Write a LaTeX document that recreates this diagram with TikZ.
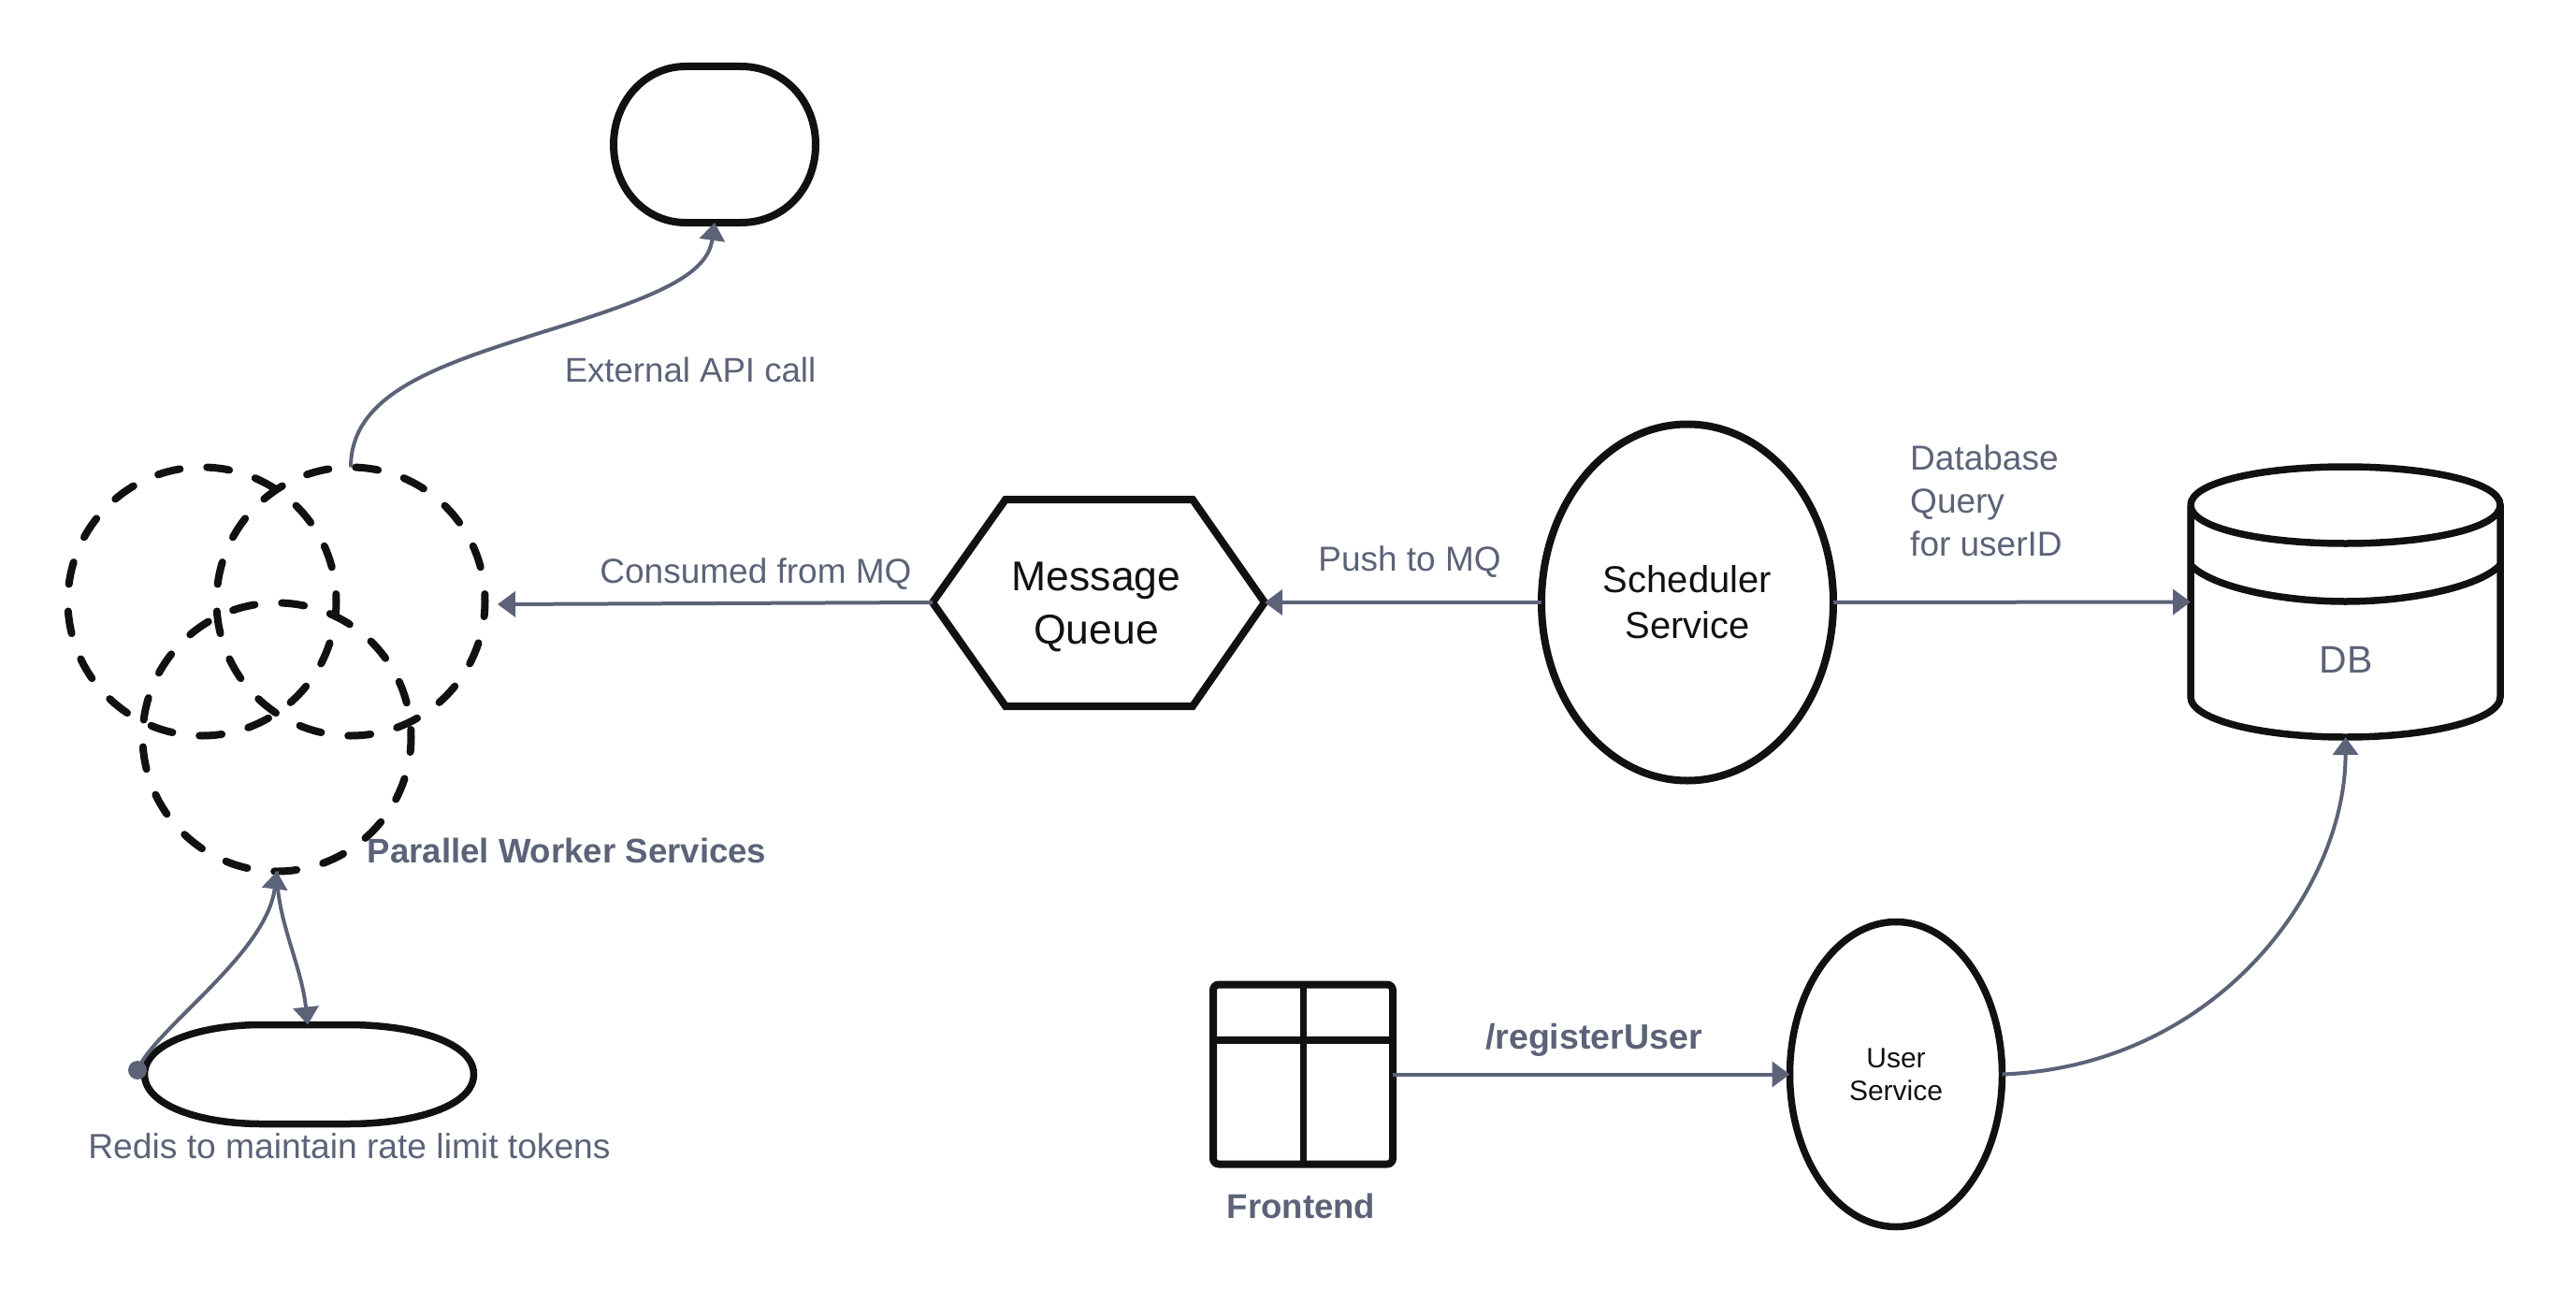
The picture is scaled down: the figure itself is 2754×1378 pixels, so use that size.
\documentclass[tikz,border=0pt]{standalone}
\usepackage{fontspec}
\setmainfont{Liberation Sans}
\usetikzlibrary{arrows.meta,shapes.geometric,calc}
\definecolor{slate}{HTML}{5C6378}
\definecolor{ink}{HTML}{111111}
\tikzset{
  x=1pt,y=-1pt,
  solidshape/.style={draw=ink,line width=8pt,outer sep=0pt,inner sep=0pt},
  ghost/.style={draw=none,outer sep=0pt,inner sep=0pt,rectangle},
  worker/.style={circle,draw=ink,line width=8pt,line cap=round,dash pattern=on 24pt off 29.04pt,dash phase=16pt,minimum size=287pt,outer sep=0pt,inner sep=0pt},
  conn/.style={draw=slate,line width=4pt,-{Triangle[length=19pt,width=27pt]}},
  lbl/.style={text=slate,font=\fontsize{37}{46}\selectfont,inner sep=0pt,align=left},
  lblb/.style={text=slate,font=\fontsize{36.6}{46}\bfseries\selectfont,inner sep=0pt},
  big/.style={text=ink,font=\fontsize{44.5}{57}\selectfont,align=center},
  mid/.style={text=ink,font=\fontsize{40}{49}\selectfont,align=center},
  small/.style={text=ink,font=\fontsize{30}{35}\selectfont,align=center},
}
\begin{document}
\begin{tikzpicture}
\useasboundingbox (0,0) rectangle (2754,1378);
% workers
\node[worker] (wa) at (216,643) {};
\node[worker] (wb) at (375,643) {};
\node[worker] (wc) at (296,788) {};
% api node
\node[ghost,minimum width=216pt,minimum height=167pt] (api) at (764,154.5) {};
\draw[ink,line width=8pt] (api.west) .. controls (656,108) and (690,71) .. (733,71) -- (792,71) .. controls (838,71) and (872,108) .. (api.east) .. controls (872,202) and (838,238) .. (792,238) -- (733,238) .. controls (690,238) and (656,202) .. cycle;
% redis
\node[ghost,minimum width=352pt,minimum height=106pt] (redis) at (330.5,1148.5) {};
\draw[ink,line width=7.5pt] (redis.west) .. controls (154.5,1115) and (215,1095.5) .. (280,1095.5) -- (371,1095.5) .. controls (445,1095.5) and (506.5,1115) .. (redis.east) .. controls (506.5,1182) and (445,1201.5) .. (371,1201.5) -- (280,1201.5) .. controls (215,1201.5) and (154.5,1182) .. cycle;
% hexagon
\node[ghost,big,minimum width=355pt,minimum height=221pt] (mq) at (1172,649) {Message\\Queue};
\draw[ink,line width=8pt,line join=miter] (997,644) -- (1075,534) -- (1275,534) -- (1352,644) -- (1275,755) -- (1075,755) -- cycle;
\coordinate (mqw) at (997,644);
\coordinate (mqe) at (1352,644);
% services
\node[solidshape,ellipse,mid,minimum width=312pt,minimum height=381pt] (sched) at (1804,644) {Scheduler\\Service};
\node[solidshape,ellipse,small,line width=7.5pt,minimum width=227pt,minimum height=326pt] (user) at (2027,1148.5) {User\\Service};
% frontend
\node[solidshape,rectangle,rounded corners=6pt,minimum width=192pt,minimum height=192pt] (fe) at (1393,1148.5) {};
\draw[ink,line width=8pt] (fe.north west |- 0,1112) -- (fe.north east |- 0,1112);
\draw[ink,line width=7pt] (fe.north) -- (fe.south);
% db
\node[ghost,minimum width=331pt,minimum height=289pt] (db) at (2507.5,643.5) {};
\draw[ink,line width=7.5pt] (2342,540) .. controls (2342,515) and (2420,499) .. (2507.5,499) .. controls (2595,499) and (2673,515) .. (2673,540) .. controls (2673,565) and (2595,581) .. (2507.5,581) .. controls (2420,581) and (2342,565) .. (2342,540) -- (2342,745) .. controls (2342,770) and (2420,788) .. (2507.5,788) .. controls (2595,788) and (2673,770) .. (2673,745) -- (2673,540);
\draw[ink,line width=7.5pt] (2342,604) .. controls (2365,628) and (2440,643) .. (2507.5,643) .. controls (2575,643) and (2650,628) .. (2673,604);
\node[lbl,font=\fontsize{41}{46}\selectfont] (dblabel) at (2508,705) {DB};
% dot
\node[circle,fill=slate,minimum size=20pt,inner sep=0pt] (dot) at (147,1144) {};
% connectors
\draw[conn] (wb.north) .. controls (375,420) and (470,390) .. (580,355) .. controls (700,318) and (756,295) .. (api.south);
\draw[conn] (mqw) -- (532,646);
\draw[conn] (sched.west) -- (mqe);
\draw[conn] (sched.east) -- (db.west);
\draw[conn] (fe.east) -- (user.west);
\draw[conn] (user.east) .. controls (2370,1140) and (2508,950) .. (db.south);
\draw[conn] (wc.south) .. controls (296,985) and (322,1030) .. (329,1095.5);
\draw[conn] (dot.center) .. controls (165,1100) and (285,1020) .. (wc.south);
% labels
\node[lbl,font=\fontsize{36.6}{46}\selectfont] (l1) at (738,395) {External API call};
\node[lbl] (l2) at (808,613.5) {Consumed from MQ};
\node[lbl] (l3) at (1507,600.5) {Push to MQ};
\node[lbl,anchor=west] (l4) at (2042,535.5) {Database\\Query\\for userID};
\node[lblb] (l5) at (606,909) {Parallel Worker Services};
\node[lbl,font=\fontsize{37.2}{46}\selectfont] (l6) at (373.5,1225.5) {Redis to maintain rate limit tokens};
\node[lblb] (l7) at (1391,1289) {Frontend};
\node[lblb,font=\fontsize{37.6}{46}\bfseries\selectfont] (l8) at (1704,1112) {/registerUser};
\end{tikzpicture}
\end{document}
